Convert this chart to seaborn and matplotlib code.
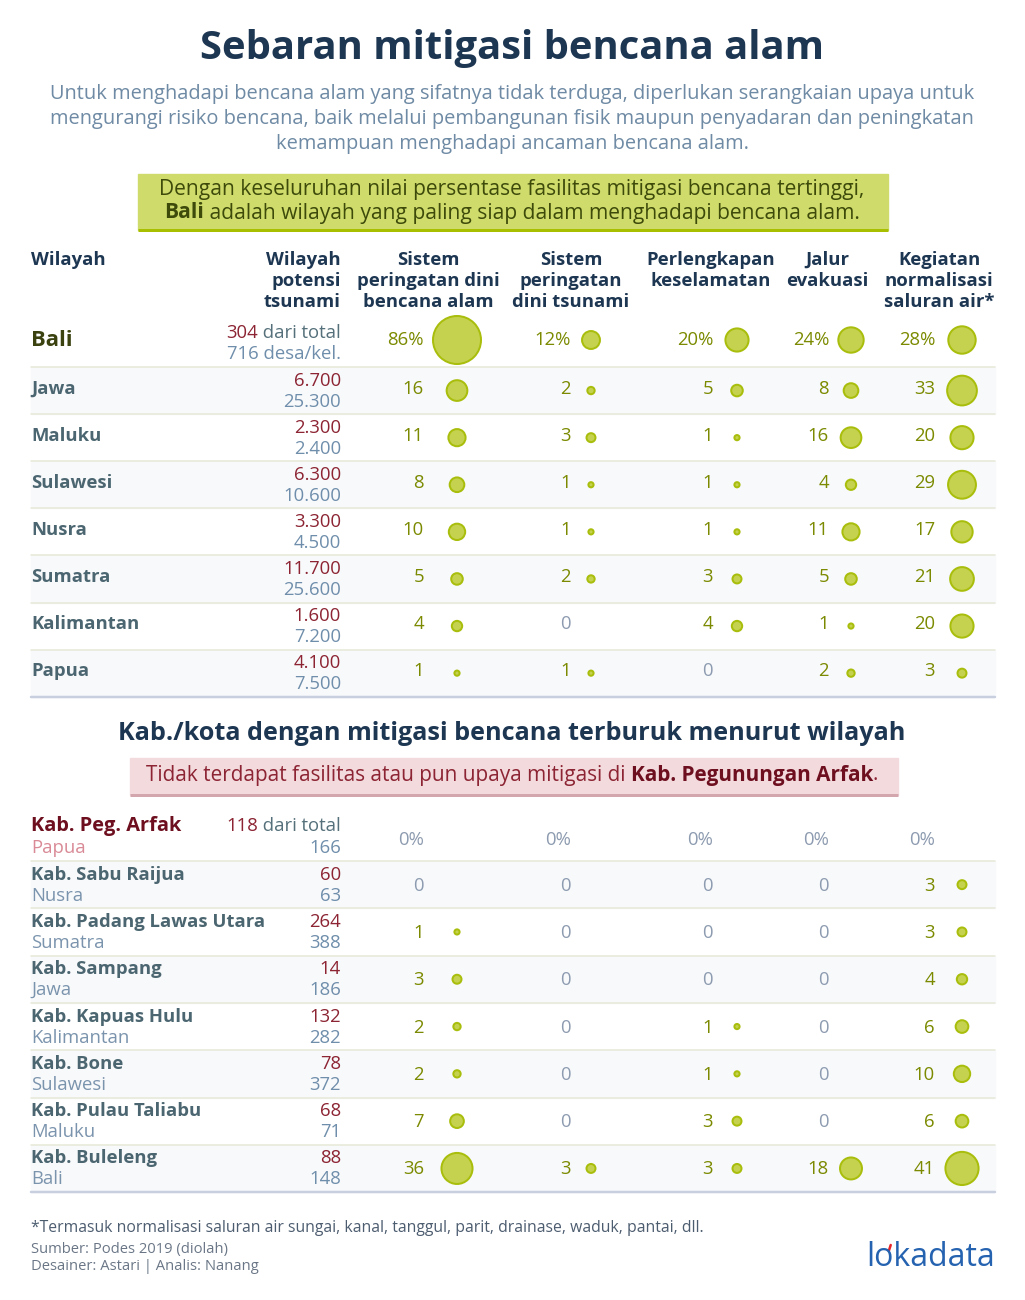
import numpy as np
import pandas as pd
import matplotlib
matplotlib.use('Agg')
import matplotlib.pyplot as plt
import seaborn as sns

# ---- data: tabel wilayah ----
regions = ['Jawa', 'Maluku', 'Sulawesi', 'Nusra', 'Sumatra', 'Kalimantan', 'Papua']
tsunami_desa = [6700, 2300, 6300, 3300, 11700, 1600, 4100]
total_desa = [25300, 2400, 10600, 4500, 25600, 7200, 7500]
ews_bencana = [16, 11, 8, 10, 5, 4, 1]
ews_tsunami = [2, 3, 1, 1, 2, 0, 1]
perlengkapan = [5, 1, 1, 1, 3, 4, 0]
jalur_evakuasi = [8, 16, 4, 11, 5, 1, 2]
normalisasi = [33, 20, 29, 17, 21, 20, 3]

bali_tsunami, bali_total = 304, 716
bali_values = [86, 12, 20, 24, 28]

col_headers = ['Sistem\nperingatan dini\nbencana alam', 'Sistem\nperingatan\ndini tsunami',
               'Perlengkapan\nkeselamatan', 'Jalur\nevakuasi', 'Kegiatan\nnormalisasi\nsaluran air*']

# ---- data: kab./kota terburuk ----
kab = ['Kab. Peg. Arfak', 'Kab. Sabu Raijua', 'Kab. Padang Lawas Utara', 'Kab. Sampang',
       'Kab. Kapuas Hulu', 'Kab. Bone', 'Kab. Pulau Taliabu', 'Kab. Buleleng']
kab_wilayah = ['Papua', 'Nusra', 'Sumatra', 'Jawa', 'Kalimantan', 'Sulawesi', 'Maluku', 'Bali']
kab_tsunami = [118, 60, 264, 14, 132, 78, 68, 88]
kab_total = [166, 63, 388, 186, 282, 372, 71, 148]
kab_ews_bencana = [0, 0, 1, 3, 2, 2, 7, 36]
kab_ews_tsunami = [0, 0, 0, 0, 0, 0, 0, 3]
kab_perlengkapan = [0, 0, 0, 0, 1, 1, 3, 3]
kab_jalur = [0, 0, 0, 0, 0, 0, 0, 18]
kab_normalisasi = [0, 3, 3, 4, 6, 10, 6, 41]

# ---- style ----
NAVY = '#1d3652'
SUB = '#6e8aa4'
OLIVE = '#7b8a00'
FILL = '#c4d24f'
EDGE = '#a9be0c'
RED = '#8c2433'
BLUE = '#6f8eab'
TEAL = '#4b6670'
GREY0 = '#8d9bb0'
BAND = '#f8f9fb'
SEP = '#e6e8d6'
BOTTOM = '#c8d0e0'

sns.set_theme(style='white')
plt.rcParams['font.family'] = ['Open Sans', 'DejaVu Sans']

fig = plt.figure(figsize=(10.25, 13), dpi=100)
ax = fig.add_axes([0, 0, 1, 1])
ax.set_xlim(0, 1025)
ax.set_ylim(1300, 0)
ax.axis('off')
renderer = fig.canvas.get_renderer()

PT = 0.72  # px -> pt at 100 dpi
num_right = [424, 571, 713, 829, 935]
circ_x = [457, 591, 737, 851, 962]
head_x = [428, 571, 711, 827, 939]
L, R = 31, 995
NUM_X = 341


def runs(x, y, parts, ha='center', size=13, **kw):
    texts = [ax.text(0, y, s, va='center', ha='left', fontsize=size, **{**kw, **p}) for s, p in parts]
    widths = [t.get_window_extent(renderer).width for t in texts]
    start = x - sum(widths) / 2 if ha == 'center' else (x - sum(widths) if ha == 'right' else x)
    for t, w in zip(texts, widths):
        t.set_x(start)
        start += w


# ---- title block ----
ax.text(512, 49, 'Sebaran mitigasi bencana alam', ha='center', va='center',
        fontsize=40 * PT, fontweight='bold', color=NAVY)
ax.text(512, 119, 'Untuk menghadapi bencana alam yang sifatnya tidak terduga, diperlukan serangkaian upaya untuk\n'
        'mengurangi risiko bencana, baik melalui pembangunan fisik maupun penyadaran dan peningkatan\n'
        'kemampuan menghadapi ancaman bencana alam.', ha='center', va='center',
        fontsize=20 * PT, color=SUB, linespacing=1.3)

ax.add_patch(plt.Rectangle((138, 174), 750, 56, color='#cfdc6c', zorder=0))
ax.plot([138, 888], [230, 230], color='#a8bf00', lw=3 * PT, solid_capstyle='butt')
runs(512, 190, [('Dengan keseluruhan nilai persentase fasilitas mitigasi bencana tertinggi,', {})],
     size=21 * PT, color='#3d4a0a')
runs(512, 213, [('Bali', {'fontweight': 'bold'}), (' adalah wilayah yang paling siap dalam menghadapi bencana alam.', {})],
     size=21 * PT, color='#3d4a0a')

# ---- header ----
hs = 18.5 * PT
ax.text(L, 251, 'Wilayah', ha='left', va='top', fontsize=hs, fontweight='bold', color=NAVY)
ax.text(NUM_X, 251, 'Wilayah\npotensi\ntsunami', ha='right', va='top', fontsize=hs,
        fontweight='bold', color=NAVY, linespacing=1.2, multialignment='right')
for hx, h in zip(head_x, col_headers):
    ax.text(hx, 251, h, ha='center', va='top', fontsize=hs, fontweight='bold', color=NAVY,
            linespacing=1.2, multialignment='center')

# ---- table 1 ----
t1_line0, t1_step = 367, 47.1
ts = 18.5 * PT
runs(NUM_X, 333, [(str(bali_tsunami), {'color': RED}), (' dari total', {'color': '#55707a'})], ha='right', size=ts)
ax.text(NUM_X, 354, f'{bali_total} desa/kel.', ha='right', va='center', fontsize=ts, color=BLUE)
ax.text(L, 340, 'Bali', ha='left', va='center', fontsize=22 * PT, fontweight='bold', color='#3b4210')
for j, v in enumerate(bali_values):
    ax.text(num_right[j], 340, f'{v}%', ha='right', va='center', fontsize=ts, color=OLIVE)


def fmt(n):
    return f'{n:,}'.replace(',', '.')


cols1 = [ews_bencana, ews_tsunami, perlengkapan, jalur_evakuasi, normalisasi]
for i, r in enumerate(regions):
    top = t1_line0 + i * t1_step
    cy = top + t1_step / 2
    if i % 2 == 0:
        ax.add_patch(plt.Rectangle((L, top), R - L, t1_step, color=BAND, zorder=0))
    ax.text(L, cy - 2, r, ha='left', va='center', fontsize=ts, fontweight='bold', color=TEAL)
    ax.text(NUM_X, cy - 10, fmt(tsunami_desa[i]), ha='right', va='center', fontsize=ts, color=RED)
    ax.text(NUM_X, cy + 11, fmt(total_desa[i]), ha='right', va='center', fontsize=ts, color=BLUE)
    for j, col in enumerate(cols1):
        ax.text(num_right[j], cy - 2, str(col[i]), ha='right', va='center', fontsize=ts,
                color=OLIVE if col[i] > 0 else GREY0)
for i in range(len(regions)):
    ax.plot([L, R], [t1_line0 + i * t1_step] * 2, color=SEP, lw=1.5 * PT, zorder=1)
ax.plot([L, R], [t1_line0 + len(regions) * t1_step] * 2, color=BOTTOM, lw=2.5 * PT, zorder=1)

# ---- table 2 ----
ax.text(512, 734, 'Kab./kota dengan mitigasi bencana terburuk menurut wilayah', ha='center', va='center',
        fontsize=25.2 * PT, fontweight='bold', color=NAVY)
ax.add_patch(plt.Rectangle((130, 758), 768, 37, color='#f3dadd', zorder=0))
ax.plot([130, 898], [795, 795], color='#d3a6ae', lw=3 * PT, solid_capstyle='butt')
runs(512, 775, [('Tidak terdapat fasilitas atau pun upaya mitigasi di ', {}),
                ('Kab. Pegunungan Arfak', {'fontweight': 'bold', 'color': '#6e0f1f'}), ('.', {})],
     size=20.8 * PT, color='#8c2433')

t2_line0, t2_step = 861, 47.3
cols2 = [kab_ews_bencana, kab_ews_tsunami, kab_perlengkapan, kab_jalur, kab_normalisasi]
# first row (Arfak)
ax.text(L, 826, kab[0], ha='left', va='center', fontsize=20 * PT, fontweight='bold', color='#6e0f1f')
ax.text(L, 848, kab_wilayah[0], ha='left', va='center', fontsize=ts, color='#d98a96')
runs(NUM_X, 826, [(str(kab_tsunami[0]), {'color': RED}), (' dari total', {'color': '#55707a'})], ha='right', size=ts)
ax.text(NUM_X, 848, str(kab_total[0]), ha='right', va='center', fontsize=ts, color=BLUE)
for j, col in enumerate(cols2):
    ax.text(num_right[j], 840, f'{col[0]}%', ha='right', va='center', fontsize=ts, color=GREY0)

for i in range(1, len(kab)):
    top = t2_line0 + (i - 1) * t2_step
    cy = top + t2_step / 2
    if i % 2 == 1:
        ax.add_patch(plt.Rectangle((L, top), R - L, t2_step, color=BAND, zorder=0))
    ax.text(L, cy - 10, kab[i], ha='left', va='center', fontsize=ts, fontweight='bold', color=TEAL)
    ax.text(L, cy + 11, kab_wilayah[i], ha='left', va='center', fontsize=ts, color='#7b94ad')
    ax.text(NUM_X, cy - 10, str(kab_tsunami[i]), ha='right', va='center', fontsize=ts, color=RED)
    ax.text(NUM_X, cy + 11, str(kab_total[i]), ha='right', va='center', fontsize=ts, color=BLUE)
    for j, col in enumerate(cols2):
        ax.text(num_right[j], cy + 1, str(col[i]), ha='right', va='center', fontsize=ts,
                color=OLIVE if col[i] > 0 else GREY0)
for i in range(len(kab) - 1):
    ax.plot([L, R], [t2_line0 + i * t2_step] * 2, color=SEP, lw=1.5 * PT, zorder=1)
ax.plot([L, R], [t2_line0 + (len(kab) - 1) * t2_step] * 2, color=BOTTOM, lw=2.5 * PT, zorder=1)

# ---- bubbles (area proportional to value) ----
rows = []
for j, v in enumerate(bali_values):
    rows.append({'cx': circ_x[j], 'cy': 340, 'value': v})
for i in range(len(regions)):
    for j, col in enumerate(cols1):
        rows.append({'cx': circ_x[j], 'cy': t1_line0 + i * t1_step + t1_step / 2, 'value': col[i]})
for i in range(1, len(kab)):
    for j, col in enumerate(cols2):
        rows.append({'cx': circ_x[j], 'cy': t2_line0 + (i - 1) * t2_step + t2_step / 2, 'value': col[i]})
bubbles = pd.DataFrame(rows)
bubbles = bubbles[bubbles['value'] > 0]
smax = (48 * PT) ** 2
sns.scatterplot(data=bubbles, x='cx', y='cy', size='value', sizes=(0, smax), size_norm=(0, 86),
                color=FILL, edgecolor=EDGE, linewidth=2 * PT, legend=False, ax=ax, zorder=3)
ax.set_xlim(0, 1025)
ax.set_ylim(1300, 0)
ax.axis('off')

# ---- footer ----
ax.text(L, 1228, '*Termasuk normalisasi saluran air sungai, kanal, tanggul, parit, drainase, waduk, pantai, dll.',
        ha='left', va='center', fontsize=15.7 * PT, color='#4d5d70')
ax.text(L, 1249, 'Sumber: Podes 2019 (diolah)', ha='left', va='center', fontsize=14.8 * PT, color='#6a7686')
ax.text(L, 1267, 'Desainer: Astari | Analis: Nanang', ha='left', va='center', fontsize=14.8 * PT, color='#6a7686')
logo = ax.text(R, 1258, 'lokadata', ha='right', va='center', fontsize=32 * PT, color='#2563b0')
lb = logo.get_window_extent(renderer)
ax.plot([lb.x0 + 0.175 * lb.width, lb.x0 + 0.19 * lb.width], [1251, 1245], color='#e8242b', lw=2.5 * PT)

fig.savefig('out.png', dpi=100)
